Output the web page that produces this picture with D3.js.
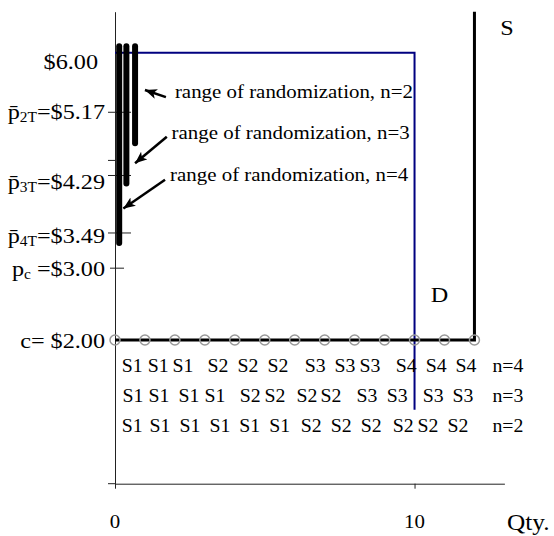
<!DOCTYPE html>
<html>
<head>
<meta charset="utf-8">
<script src="https://cdn.jsdelivr.net/npm/d3@7"></script>
<style>
  body { margin: 0; background: #fff; }
  svg text { font-family: "Liberation Serif", "Times New Roman", serif; fill: #000; }
</style>
</head>
<body>
<div id="graphicContainer"></div>
<script>

// unit markers on the c = $2.00 line (quantity)
const units = [0, 1, 2, 3, 4, 5, 6, 7, 8, 9, 10, 11, 12]

// supply and demand steps, [qty, price]
const supply = [[0, 2], [12, 2], [12, 6.57]]
const demand = [[0, 6], [10, 6], [10, 1.03]]

// ranges of randomization
const rangeN = [4, 3, 2]
const rangeQty = [0.14, 0.38, 0.67]
const rangeLow = [3.35, 4.18, 4.74]
const rangeHigh = [6.09, 6.09, 6.09]

// price axis labels: [text, subscript?] parts and the price they sit at
const priceLabels = [
  [["$6.00", false]],
  [["p\u0304", false], ["2T", true], ["=$5.17", false]],
  [["p\u0304", false], ["3T", true], ["=$4.29", false]],
  [["p\u0304", false], ["4T", true], ["=$3.49", false]],
  [["p", false], ["c", true], [" =$3.00", false]],
  [["c= $2.00", false]]
]
const priceLabelAt = [5.875, 5.18, 4.21, 3.45, 3.0, 1.99]

const priceTicksLong = [5.17, 4.29, 3.49]
const priceTicksShort = [3.0]
const priceTicksLeft = [4.5]

// annotation text and arrows (qty, price)
const noteText = ["range of randomization, n=2", "range of randomization, n=3", "range of randomization, n=4"]
const noteAt = [[2.0, 5.37], [1.89, 4.80], [1.84, 4.21]]
const arrowFrom = [[1.70, 5.38], [1.73, 4.83], [1.67, 4.23]]
const arrowTo = [[1.00, 5.48], [0.67, 4.46], [0.28, 3.83]]

// seller assignment rows
const rows = ["n=4", "n=3", "n=2"]
const rowSellers = [
  ["S1", "S1", "S1", "S2", "S2", "S2", "S3", "S3", "S3", "S4", "S4", "S4"],
  ["S1", "S1", "S1", "S1", "S2", "S2", "S2", "S2", "S3", "S3", "S3", "S3"],
  ["S1", "S1", "S1", "S1", "S1", "S1", "S2", "S2", "S2", "S2", "S2", "S2"]
]
const rowQty = [
  [0.57, 1.44, 2.27, 3.44, 4.44, 5.44, 6.68, 7.68, 8.51, 9.72, 10.72, 11.72],
  [0.60, 1.47, 2.47, 3.34, 4.51, 5.34, 6.41, 7.21, 8.41, 9.42, 10.62, 11.62],
  [0.57, 1.50, 2.50, 3.50, 4.50, 5.50, 6.55, 7.55, 8.55, 9.62, 10.45, 11.45]
]

const qtyTicks = [0, 10]

const width = 554
const height = 536
const stretch = 1.1

const svg = d3.select("#graphicContainer")
  .append("svg")
  .attr("width", width)
  .attr("height", height)

const x = d3.scaleLinear().domain([0, 13]).range([115, 504.4])
const y = d3.scaleLinear().domain([0, 6.57]).range([483.7, 11.7])

const defs = svg.append("defs")

defs.append("marker")
  .attr("id", "head")
  .attr("markerUnits", "userSpaceOnUse")
  .attr("markerWidth", 14)
  .attr("markerHeight", 12)
  .attr("refX", 12)
  .attr("refY", 5)
  .attr("orient", "auto")
  .append("path")
  .attr("d", "M0,0 L12,5 L0,10 L3,5 Z")
  .attr("fill", "#000")

function addText(g, px, py, parts, size, anchor) {
  const t = g.append("text")
    .attr("transform", `translate(${px},${py}) scale(${stretch},1)`)
    .attr("text-anchor", anchor)
    .style("font-size", size + "px")
  let shifted = false
  parts.forEach(([txt, sub]) => {
    const span = t.append("tspan").text(txt)
    if (sub && !shifted) {
      span.attr("dy", 3).style("font-size", Math.round(size * 0.64) + "px")
      shifted = true
    } else if (!sub && shifted) {
      span.attr("dy", -3)
      shifted = false
    }
  })
  return t
}

// axes
const xAxis = svg.append("g")
  .attr("transform", `translate(0,${y(0)})`)
  .call(d3.axisBottom(x).tickValues(qtyTicks).tickSize(5).tickSizeOuter(0).tickFormat(""))

xAxis.select(".domain").attr("stroke", "#222")
xAxis.selectAll(".tick line").attr("stroke", "#222")

svg.append("line")
  .attr("x1", x(0) - 7).attr("x2", x(0))
  .attr("y1", y(0)).attr("y2", y(0))
  .attr("stroke", "#222")

const yAxis = svg.append("g")
  .attr("transform", `translate(${x(0)},0)`)
  .call(d3.axisLeft(y).tickValues([]).tickSizeOuter(0))

yAxis.select(".domain").attr("stroke", "#222")

svg.selectAll(".tickLong")
  .data(priceTicksLong)
  .enter()
  .append("line")
  .attr("x1", x(0) - 7).attr("x2", x(0) + 16)
  .attr("y1", d => y(d)).attr("y2", d => y(d))
  .attr("stroke", "#222")

svg.selectAll(".tickShort")
  .data(priceTicksShort)
  .enter()
  .append("line")
  .attr("x1", x(0) - 5).attr("x2", x(0) + 9)
  .attr("y1", d => y(d)).attr("y2", d => y(d))
  .attr("stroke", "#222")

svg.selectAll(".tickLeft")
  .data(priceTicksLeft)
  .enter()
  .append("line")
  .attr("x1", x(0) - 7).attr("x2", x(0))
  .attr("y1", d => y(d)).attr("y2", d => y(d))
  .attr("stroke", "#222")

const line = d3.line().x(d => x(d[0])).y(d => y(d[1]))

// demand
svg.append("path")
  .attr("d", line(demand))
  .attr("fill", "none")
  .attr("stroke", "#000080")
  .attr("stroke-width", 2)

// supply
svg.append("path")
  .attr("d", line(supply))
  .attr("fill", "none")
  .attr("stroke", "#000")
  .attr("stroke-width", 3)

svg.selectAll(".unit")
  .data(units)
  .enter()
  .append("circle")
  .attr("cx", d => x(d))
  .attr("cy", y(2))
  .attr("r", 5)
  .attr("fill", "none")
  .attr("stroke", "#999")
  .attr("stroke-width", 1.5)

// ranges of randomization
svg.selectAll(".range")
  .data(rangeN)
  .enter()
  .append("line")
  .attr("x1", (d, i) => x(rangeQty[i]))
  .attr("x2", (d, i) => x(rangeQty[i]))
  .attr("y1", (d, i) => y(rangeHigh[i]))
  .attr("y2", (d, i) => y(rangeLow[i]))
  .attr("stroke", "#000")
  .attr("stroke-width", 6)
  .attr("stroke-linecap", "round")

// arrows
svg.selectAll(".arrow")
  .data(arrowFrom)
  .enter()
  .append("line")
  .attr("x1", d => x(d[0]))
  .attr("y1", d => y(d[1]))
  .attr("x2", (d, i) => x(arrowTo[i][0]))
  .attr("y2", (d, i) => y(arrowTo[i][1]))
  .attr("stroke", "#000")
  .attr("stroke-width", 2.5)
  .attr("marker-end", "url(#head)")

noteText.forEach((txt, i) => {
  addText(svg, x(noteAt[i][0]), y(noteAt[i][1]), [[txt, false]], 19, "start")
})

// price labels
priceLabels.forEach((parts, i) => {
  const right = i === 0 ? x(0) - 17 : x(0) - 10
  addText(svg, right, y(priceLabelAt[i]) + 7.5, parts, 22, "end")
})

// seller rows
const rowY = d3.scalePoint().domain(rows).range([y(2) + 32, y(2) + 92])

rows.forEach((r, i) => {
  rowSellers[i].forEach((s, j) => {
    addText(svg, x(rowQty[i][j]), rowY(r), [[s, false]], 18, "middle")
  })
  addText(svg, x(12.6), rowY(r), [[r, false]], 18, "start")
})

// curve labels
addText(svg, x(12.86), y(6.57) + 23, [["S", false]], 22, "start")
addText(svg, x(10.54), y(2) - 38, [["D", false]], 22, "start")

// quantity labels
qtyTicks.forEach(q => {
  addText(svg, x(q), 528, [[String(q), false]], 19, "middle")
})
addText(svg, x(13.8), 530, [["Qty.", false]], 23, "middle")

</script>
</body>
</html>
